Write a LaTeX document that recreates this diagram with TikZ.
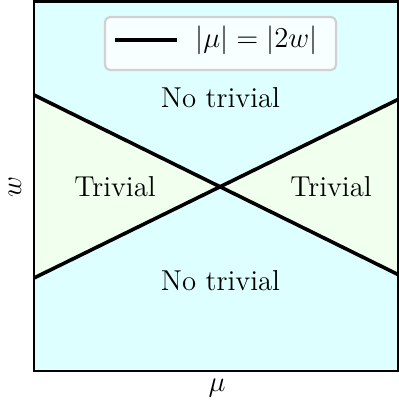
\documentclass[tikz,border=0pt]{standalone}
\usepackage{amsmath}
\usepackage{tikz}
\usetikzlibrary{positioning}

\definecolor{notriv}{RGB}{221,255,255}
\definecolor{triv}{RGB}{240,255,238}

\begin{document}
\begin{tikzpicture}[
  x=0.5pt, y=-0.5pt,
  font=\fontsize{14.4}{17}\selectfont,
  region/.style={inner sep=0pt},
  bound/.style={line width=1.8pt, black},
  frame/.style={line width=1.1pt, black},
  legendbox/.style={draw=black!18, line width=1.1pt, fill=white, fill opacity=0.8,
                    rounded corners=2.5pt}
]
\useasboundingbox (0,0) rectangle (398,407);

% Corners of the plot and ends of the two lines
\coordinate (bl) at (34,371);
\coordinate (tr) at (398,1.5);
\coordinate (lt) at (34,95);
\coordinate (lb) at (34,278);
\coordinate (rt) at (398,99.5);
\coordinate (rb) at (398,274.5);
\coordinate (cross) at (220.5,187);

% Regions
\fill[notriv] (bl) rectangle (tr);
\fill[triv] (lt) -- (cross) -- (lb) -- cycle;
\fill[triv] (rt) -- (cross) -- (rb) -- cycle;

% |mu| = |2w|
\draw[bound] (lt) -- (rb);
\draw[bound] (lb) -- (rt);

\draw[frame] (bl) rectangle (tr);

% Labels of the regions
\node[region] (top) at (220.5,98) {No trivial};
\node[region] (bot) at (220.5,281) {No trivial};
\node[region] (left) at (115,187) {Trivial};
\node[region] (right) at (331,187) {Trivial};

% Legend
\draw[legendbox] (105,17) rectangle (336,70);
\coordinate (l1) at (115,40);
\coordinate (l2) at (177,40);
\draw[bound] (l1) -- (l2);
\node[region, anchor=west] (lgtxt) at (195,40) {$|\mu| = |2w|$};

% Axis labels
\node[region, rotate=90] (ylab) at (15,187) {$w$};
\node[region] (xlab) at (217,388) {$\mu$};
\end{tikzpicture}
\end{document}
